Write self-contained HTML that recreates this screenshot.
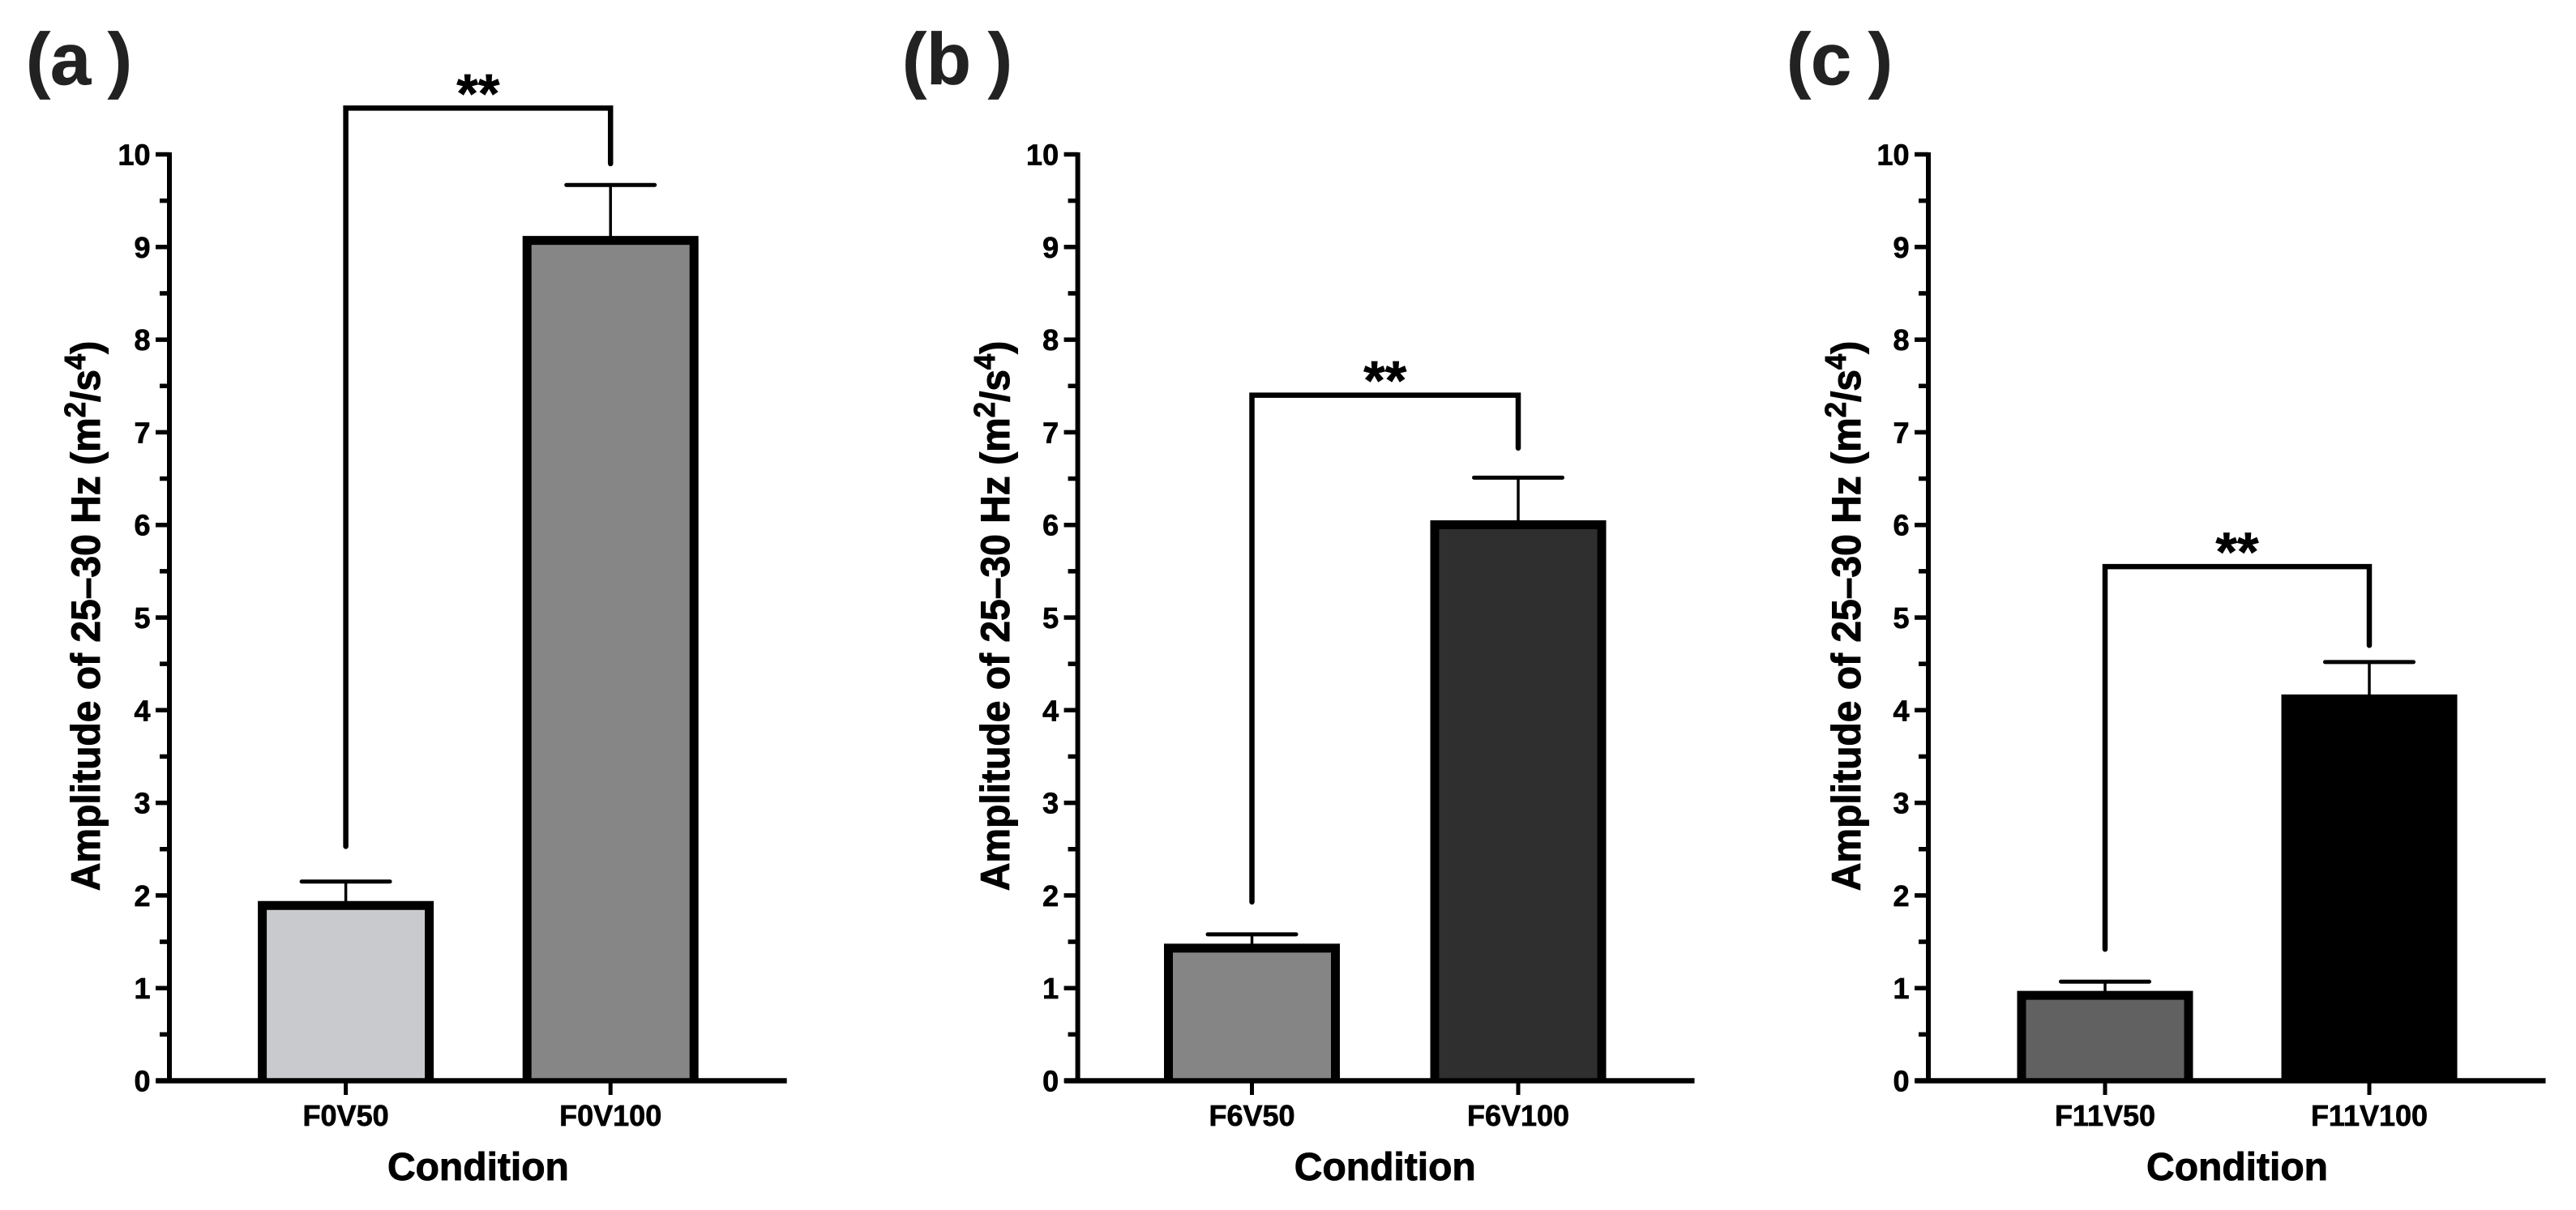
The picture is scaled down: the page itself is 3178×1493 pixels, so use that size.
<!DOCTYPE html>
<html lang="en">
<head>
<meta charset="utf-8">
<title>Amplitude of 25–30 Hz by condition</title>
<style>
html,body{margin:0;padding:0;background:#fff;}
svg{display:block;}
text{font-family:"Liberation Sans",Arial,sans-serif;font-weight:bold;fill:#000;stroke:#000;stroke-width:0.7px;}
</style>
</head>
<body>
<svg id="figure" xmlns="http://www.w3.org/2000/svg" width="3178" height="1493" viewBox="0 0 3178 1493"></svg>
<script>
// ---- Data ----
const panelLetters = ['(a )', '(b )', '(c )'];
const categoriesA = ['F0V50', 'F0V100'];
const categoriesB = ['F6V50', 'F6V100'];
const categoriesC = ['F11V50', 'F11V100'];
const meansA = [1.94, 9.12];
const meansB = [1.48, 6.05];
const meansC = [0.97, 4.17];
const errorTopsA = [2.15, 9.67];
const errorTopsB = [1.58, 6.51];
const errorTopsC = [1.07, 4.52];
const bracketTops = [10.5, 7.4, 5.55];
const bracketEndsA = [2.53, 9.9];
const bracketEndsB = [1.93, 6.83];
const bracketEndsC = [1.42, 4.7];
const barFillsA = ['#c9cacd', '#868686'];
const barFillsB = ['#858585', '#2f2f2f'];
const barFillsC = ['#616161', '#000000'];
const yTickLabels = ['0', '1', '2', '3', '4', '5', '6', '7', '8', '9', '10'];
const yMinorTicks = [0.5, 1.5, 2.5, 3.5, 4.5, 5.5, 6.5, 7.5, 8.5, 9.5];
const yAxisTitle = 'Amplitude of 25–30 Hz (m';
const xAxisTitle = 'Condition';
const significance = '**';

// ---- Layout ----
const Y0 = 1333.5, UNIT = 114.3;
const layouts = [
  {id:'a', axisX:209,    cat0:426.6,  gap:326.6, titleX:123,  letterX:32,
   cats:categoriesA, means:meansA, tops:errorTopsA, ends:bracketEndsA, fills:barFillsA},
  {id:'b', axisX:1329.6, cat0:1544.5, gap:328.5, titleX:1245, letterX:1113,
   cats:categoriesB, means:meansB, tops:errorTopsB, ends:bracketEndsB, fills:barFillsB},
  {id:'c', axisX:2379,   cat0:2597,   gap:326,   titleX:2295, letterX:2204,
   cats:categoriesC, means:meansC, tops:errorTopsC, ends:bracketEndsC, fills:barFillsC}
];
const yScale = v => Y0 - v * UNIT;
const xScale = (p, i) => p.cat0 + i * p.gap;

const NS = 'http://www.w3.org/2000/svg';
const svg = document.getElementById('figure');
function mk(parent, tag, attrs, txt) {
  const el = document.createElementNS(NS, tag);
  for (const k in attrs) el.setAttribute(k, attrs[k]);
  if (txt !== undefined) el.textContent = txt;
  parent.appendChild(el);
  return el;
}

layouts.forEach((p, pi) => {
  const g = mk(svg, 'g', {});
  
  

  const letter = mk(g, 'text', {x:p.letterX, y:104, 'font-size':90, 'word-spacing':-4,
    style:'fill:#222;stroke:#222;white-space:pre'}, panelLetters[pi]);
  
  

  const xEnd = xScale(p, 1) + 217.5;

  // bars (open at the bottom so they stop at the x axis)
  p.means.forEach((m, i) => {
    const cx = xScale(p, i), half = 108.5, bw = 11;
    const top = yScale(m);
    const d = 'M' + (cx - half + bw/2) + ' ' + Y0 + 'V' + (top + bw/2) + 'H' + (cx + half - bw/2) + 'V' + Y0;
    const bar = mk(g, 'path', {d:d, fill:p.fills[i], stroke:'#000', 'stroke-width':bw, 'stroke-linejoin':'miter'});
    
    

    const stem = mk(g, 'line', {x1:cx, x2:cx, y1:yScale(p.tops[i]), y2:top + 2, stroke:'#000', 'stroke-width':3.5});
    
    

    const cap = mk(g, 'line', {x1:cx - 54.5, x2:cx + 54.5, y1:yScale(p.tops[i]), y2:yScale(p.tops[i]),
      stroke:'#000', 'stroke-width':5, 'stroke-linecap':'round'});
    
    
  });

  // y axis
  const yLine = mk(g, 'line', {x1:p.axisX, x2:p.axisX, y1:yScale(10) - 2.5, y2:Y0, stroke:'#000', 'stroke-width':6});
  
  

  yTickLabels.forEach((lab, i) => {
    const y = yScale(Number(lab));
    const t = mk(g, 'line', {x1:p.axisX - 17, x2:p.axisX, y1:y, y2:y, stroke:'#000', 'stroke-width':5.5});
    
    
    const l = mk(g, 'text', {x:p.axisX - 23.5, y:y + 13, 'font-size':36, 'text-anchor':'end'}, lab);
    
    
  });
  yMinorTicks.forEach(v => {
    const y = yScale(v);
    const t = mk(g, 'line', {x1:p.axisX - 12, x2:p.axisX, y1:y, y2:y, stroke:'#000', 'stroke-width':5.5});
    
    
  });

  // x axis
  const xLine = mk(g, 'line', {x1:p.axisX - 16.5, x2:xEnd, y1:Y0, y2:Y0, stroke:'#000', 'stroke-width':6.5});
  
  

  p.cats.forEach((c, i) => {
    const cx = xScale(p, i);
    const t = mk(g, 'line', {x1:cx, x2:cx, y1:Y0, y2:1351, stroke:'#000', 'stroke-width':5});
    
    
    const l = mk(g, 'text', {x:cx, y:1389, 'font-size':36, 'text-anchor':'middle'}, c);
    
    
  });

  const mid = (xScale(p, 0) + xScale(p, 1)) / 2;

  const xt = mk(g, 'text', {x:mid, y:1456, 'font-size':48, 'text-anchor':'middle', style:'stroke-width:0.9px'}, xAxisTitle);
  
  

  // y title
  const yt = mk(g, 'text', {'font-size':50, 'text-anchor':'middle', style:'stroke-width:1px',
    transform:'translate(' + p.titleX + ',760) rotate(-90) scale(0.96,1)'});
  
  
  mk(yt, 'tspan', {}, yAxisTitle);
  mk(yt, 'tspan', {'font-size':36, dy:-18}, '2');
  mk(yt, 'tspan', {dy:18}, '/s');
  mk(yt, 'tspan', {'font-size':36, dy:-18}, '4');
  mk(yt, 'tspan', {dy:18}, ')');

  // significance bracket
  const yb = yScale(bracketTops[pi]);
  const br = mk(g, 'polyline', {
    points:[xScale(p,0), yScale(p.ends[0]), xScale(p,0), yb, xScale(p,1), yb, xScale(p,1), yScale(p.ends[1])].join(' '),
    fill:'none', stroke:'#000', 'stroke-width':6.5, 'stroke-linecap':'round', 'stroke-linejoin':'miter'});
  
  

  const st = mk(g, 'text', {x:mid, y:yb + 5, 'font-size':68, 'text-anchor':'middle'}, significance);
  
  
});
</script>
</body>
</html>
